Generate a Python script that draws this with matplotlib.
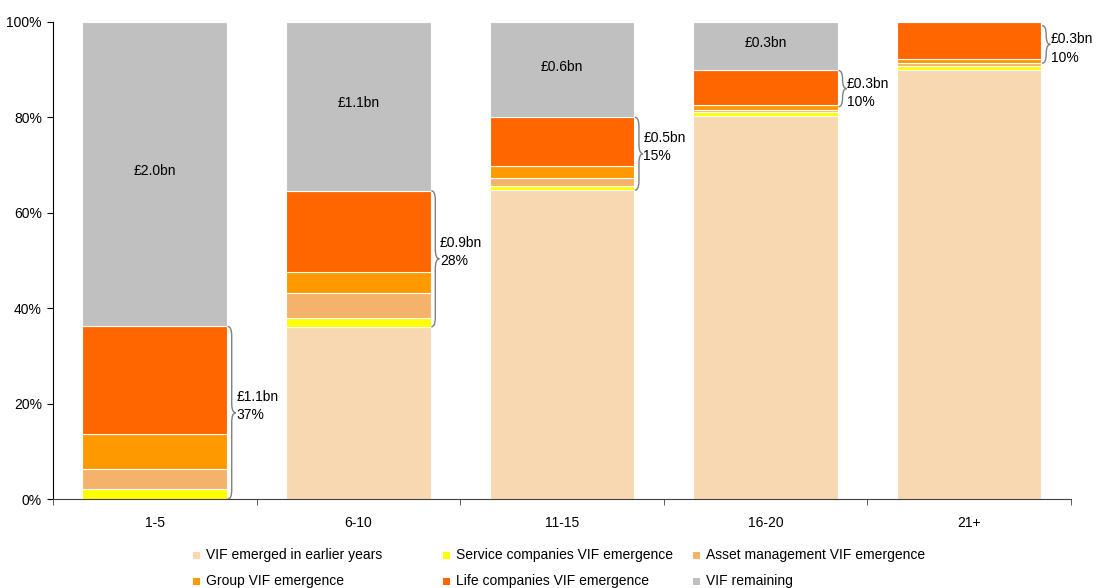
import matplotlib
matplotlib.use("Agg")
import matplotlib.pyplot as plt
from matplotlib.path import Path
from matplotlib.patches import PathPatch, Rectangle
import numpy as np

plt.rcParams['font.family'] = ['Liberation Sans', 'DejaVu Sans']

categories = ["1-5", "6-10", "11-15", "16-20", "21+"]
series_names = ["VIF emerged in earlier years", "Service companies VIF emergence",
                "Asset management VIF emergence", "Group VIF emergence",
                "Life companies VIF emergence", "VIF remaining"]
earlier = [0.0, 36.1, 64.7, 80.2, 90.0]
service = [2.2, 1.9, 0.9, 0.8, 0.8]
asset = [4.1, 5.1, 1.6, 0.6, 0.6]
group = [7.3, 4.4, 2.5, 0.9, 0.8]
life = [22.6, 17.1, 10.3, 7.3, 7.8]
remaining = [63.8, 35.4, 20.0, 10.2, 0.0]
remaining_labels = ["£2.0bn", "£1.1bn", "£0.6bn", "£0.3bn", ""]
brace_lo = [0.0, 36.1, 64.7, 82.2, 91.3]
brace_hi = [36.2, 64.6, 80.0, 89.8, 99.2]
brace_labels = ["£1.1bn\n37%", "£0.9bn\n28%", "£0.5bn\n15%", "£0.3bn\n10%", "£0.3bn\n10%"]
colors = ["#F8D8B0", "#FFFF00", "#F4B26B", "#FF9900", "#FF6600", "#C0C0C0"]

fig = plt.figure(figsize=(11.03, 5.88), dpi=100)
ax = fig.add_axes([0.048, 0.151, 0.923, 0.812])

x = np.arange(len(categories))
width = 0.71
bottom = np.zeros(len(categories))
for vals, c, name in zip([earlier, service, asset, group, life, remaining], colors, series_names):
    ax.bar(x, vals, width, bottom=bottom, color=c, edgecolor="white", linewidth=0.8, label=name)
    bottom += np.array(vals)

cum_before_rem = np.array(earlier) + np.array(service) + np.array(asset) + np.array(group) + np.array(life)
for i, lab in enumerate(remaining_labels):
    if lab:
        ax.text(x[i], cum_before_rem[i] + remaining[i] / 2 + 0.6, lab, ha="center", va="center", fontsize=10)

def brace(ax, x0, lo, hi, w=0.04):
    mid = (lo + hi) / 2
    r = min(2.0, (hi - lo) / 4)
    xm = x0 + w / 2
    verts = [(x0, lo), (xm, lo), (xm, lo + r),
             (xm, mid - r),
             (xm, mid), (x0 + w, mid),
             (xm, mid), (xm, mid + r),
             (xm, hi - r),
             (xm, hi), (x0, hi)]
    codes = [Path.MOVETO, Path.CURVE3, Path.CURVE3,
             Path.LINETO,
             Path.CURVE3, Path.CURVE3,
             Path.CURVE3, Path.CURVE3,
             Path.LINETO,
             Path.CURVE3, Path.CURVE3]
    ax.add_patch(PathPatch(Path(verts, codes), fill=False, edgecolor="#808080", linewidth=1.0, clip_on=False))
    return x0 + w, mid

for i in range(len(categories)):
    tx, ty = brace(ax, x[i] + width / 2 + 0.003, brace_lo[i], brace_hi[i])
    dy = 5 if (brace_hi[i] - brace_lo[i]) > 10 else -3
    ax.annotate(brace_labels[i], xy=(tx + 0.002, ty), xytext=(0, dy), textcoords="offset points",
                ha="left", va="center", fontsize=10, linespacing=1.4, annotation_clip=False)

ax.set_xlim(-0.5, len(categories) - 0.5)
ax.set_ylim(0, 100)
ax.set_yticks([0, 20, 40, 60, 80, 100])
ax.set_yticklabels([f"{v}%" for v in [0, 20, 40, 60, 80, 100]], fontsize=10)
ax.set_xticks(x)
ax.set_xticklabels(categories, fontsize=10)
ax.set_xticks(np.arange(-0.5, len(categories)), minor=True)
ax.tick_params(axis="x", which="major", length=0, pad=12)
ax.tick_params(axis="x", which="minor", length=4, direction="out", color="#404040")
ax.tick_params(axis="y", length=4, direction="out", pad=4)
for s in ["top", "right"]:
    ax.spines[s].set_visible(False)
ax.spines["left"].set_color("#000000")
ax.spines["bottom"].set_color("#404040")

# legend drawn manually in a 3x2 grid
leg_x = [197, 447, 697]
leg_y = [555, 581]
W, H = 1103, 588
for k, (name, c) in enumerate(zip(series_names, colors)):
    row, col = divmod(k, 3)
    px, py = leg_x[col], leg_y[row]
    fig.add_artist(Rectangle(((px - 4) / W, 1 - (py + 4) / H), 7 / W, 7 / H,
                             transform=fig.transFigure, facecolor=c, edgecolor="none"))
    fig.text((px + 9) / W, 1 - py / H, name, ha="left", va="center", fontsize=10)

fig.savefig("out.png", dpi=100)
